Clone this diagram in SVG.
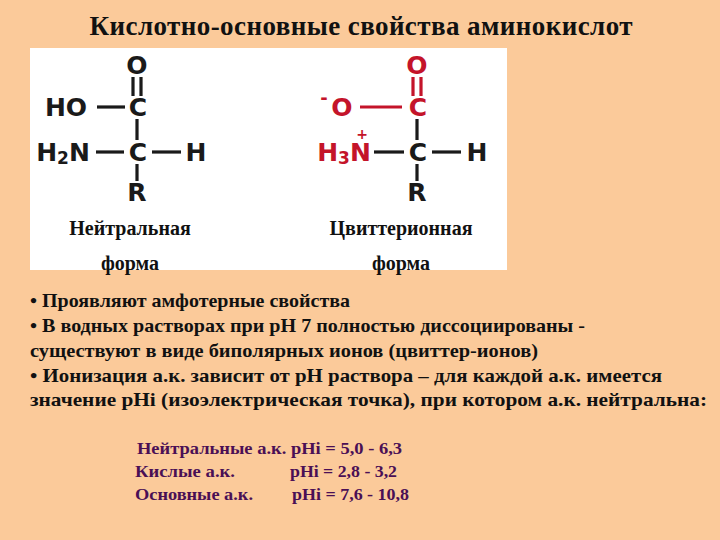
<svg xmlns="http://www.w3.org/2000/svg" width="720" height="540" viewBox="0 0 720 540">
<style>
.c{font-family:"DejaVu Sans",sans-serif;font-weight:bold;font-size:25px;text-anchor:middle}
.k{fill:#1a1a1a}.r{fill:#c4142a}
.b{stroke-width:3.2}
.l{font-family:"Liberation Serif",serif;font-weight:bold;font-size:20px;text-anchor:middle;fill:#111}
.t{font-family:"Liberation Serif",serif;font-weight:bold;font-size:19px;fill:#111}
.p{font-family:"Liberation Serif",serif;font-weight:bold;font-size:17px;fill:#4a0f55}
</style>
<rect width="720" height="540" fill="#fbca9a"/>
<text x="361" y="35" font-family="Liberation Serif,serif" font-weight="bold" font-size="27" text-anchor="middle" fill="#111" textLength="543">Кислотно-основные свойства аминокислот</text>
<rect x="30" y="48" width="477" height="222" fill="#fff"/>
<g id="neutral">
<g stroke="#1a1a1a" class="b">
<line x1="133" y1="77" x2="133" y2="96"/><line x1="141" y1="77" x2="141" y2="96"/>
<line x1="97" y1="107" x2="125" y2="107"/>
<line x1="137" y1="119" x2="137" y2="140"/>
<line x1="96" y1="152" x2="124" y2="152"/>
<line x1="152" y1="152" x2="181" y2="152"/>
<line x1="137" y1="164" x2="137" y2="181"/>
</g>
<g class="c k">
<text x="137" y="74">O</text>
<text x="138" y="116">C</text>
<text x="66" y="116">HO</text>
<text x="138" y="161">C</text>
<text x="63" y="161">H<tspan font-size="17" dy="3">2</tspan><tspan dy="-3">N</tspan></text>
<text x="196" y="161">H</text>
<text x="137" y="201">R</text>
</g>
<text class="l" x="130" y="235">Нейтральная</text>
<text class="l" x="130" y="270">форма</text>
</g>
<g id="zwitterion">
<g stroke="#c4142a" class="b">
<line x1="413" y1="77" x2="413" y2="96"/><line x1="421" y1="77" x2="421" y2="96"/>
<line x1="360" y1="107" x2="402" y2="107"/>
</g>
<g stroke="#1a1a1a" class="b">
<line x1="417" y1="119" x2="417" y2="140"/>
<line x1="374" y1="152" x2="404" y2="152"/>
<line x1="432" y1="152" x2="461" y2="152"/>
<line x1="417" y1="164" x2="417" y2="181"/>
</g>
<g class="c r">
<text x="417" y="74">O</text>
<text x="418" y="116">C</text>
<text x="342" y="116">O</text>
<text x="324" y="104" font-size="18">-</text>
<text x="344" y="161">H<tspan font-size="17" dy="3">3</tspan><tspan dy="-3">N</tspan></text>
<text x="362" y="139" font-size="14">+</text>
</g>
<g class="c k">
<text x="418" y="161">C</text>
<text x="477" y="161">H</text>
<text x="417" y="201">R</text>
</g>
<text class="l" x="401" y="235">Цвиттерионная</text>
<text class="l" x="401" y="270">форма</text>
</g>
<g>
<text class="t" x="30" y="307" textLength="320" lengthAdjust="spacingAndGlyphs">• Проявляют амфотерные свойства</text>
<text class="t" x="30" y="332" textLength="555" lengthAdjust="spacingAndGlyphs">• В водных растворах при pH 7 полностью диссоциированы -</text>
<text class="t" x="30" y="357" textLength="508" lengthAdjust="spacingAndGlyphs">существуют   в виде биполярных ионов (цвиттер-ионов)</text>
<text class="t" x="30" y="382" textLength="632" lengthAdjust="spacingAndGlyphs">• Ионизация а.к. зависит от pH раствора – для каждой а.к. имеется</text>
<text class="t" x="30" y="406" textLength="677" lengthAdjust="spacingAndGlyphs">значение  pHi (изоэлектрическая точка), при котором а.к. нейтральна:</text>
<text class="p" x="137" y="454" textLength="265" lengthAdjust="spacingAndGlyphs">Нейтральные а.к.  pHi = 5,0 - 6,3</text>
<text class="p" x="135" y="477" textLength="100" lengthAdjust="spacingAndGlyphs">Кислые а.к.</text><text class="p" x="290" y="477" textLength="107" lengthAdjust="spacingAndGlyphs">pHi = 2,8 - 3,2</text>
<text class="p" x="135" y="500" textLength="118" lengthAdjust="spacingAndGlyphs">Основные а.к.</text><text class="p" x="292" y="500" textLength="117" lengthAdjust="spacingAndGlyphs">pHi = 7,6 - 10,8</text>
</g>
</svg>
